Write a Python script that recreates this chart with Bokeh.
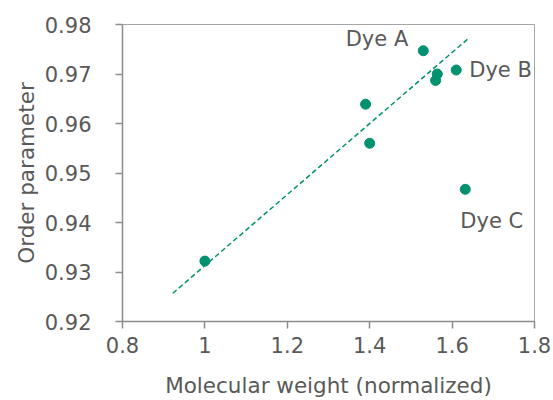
from bokeh.plotting import figure
from bokeh.models import Range1d, FixedTicker, Label
from bokeh.embed import file_html
from bokeh.resources import INLINE

# Data
mol_weight = [1.0, 1.39, 1.40, 1.53, 1.564, 1.56, 1.61, 1.632]
order_param = [0.9322, 0.9639, 0.9560, 0.9747, 0.9700, 0.9687, 0.9708, 0.9467]
trend_x = [0.922, 1.637]
trend_y = [0.9257, 0.9770]
dye_names = ["Dye A", "Dye B", "Dye C"]
dye_x = [1.53, 1.61, 1.632]
dye_y = [0.9747, 0.9708, 0.9467]
x_ticks = [0.8, 1.0, 1.2, 1.4, 1.6, 1.8]
x_tick_labels = ["0.8", "1", "1.2", "1.4", "1.6", "1.8"]
y_ticks = [0.92, 0.93, 0.94, 0.95, 0.96, 0.97, 0.98]
y_tick_labels = ["0.92", "0.93", "0.94", "0.95", "0.96", "0.97", "0.98"]

GREEN = "#00916E"
TEXT = "#595959"
AXIS = "#8c8c8c"
FONT = "DejaVu Sans"

p = figure(width=553, height=400, output_backend="svg", toolbar_location=None,
           x_range=Range1d(0.8, 1.8), y_range=Range1d(0.92, 0.98),
           min_border_left=122, min_border_right=19, min_border_top=24,
           min_border_bottom=79)
p.grid.visible = False
p.outline_line_color = "#a6a6a6"
p.outline_line_width = 1

p.line(trend_x, trend_y, line_color=GREEN, line_width=1.5, line_dash="5 3")
p.scatter(mol_weight, order_param, size=10, fill_color=GREEN, line_color=GREEN)

offsets = [(-15, 12, "right", "middle"), (13, 0, "left", "middle"), (-5, -32, "left", "middle")]
for name, x, y, (dx, dy, al, bl) in zip(dye_names, dye_x, dye_y, offsets):
    p.add_layout(Label(x=x, y=y, x_offset=dx, y_offset=dy, text=name,
                       text_align=al, text_baseline=bl, text_font=FONT,
                       text_font_size="21px", text_color=TEXT))

for ax in (p.xaxis[0], p.yaxis[0]):
    ax.axis_line_color = AXIS
    ax.axis_line_width = 1.5
    ax.major_tick_line_color = AXIS
    ax.major_tick_line_width = 1.5
    ax.major_tick_out = 7
    ax.major_tick_in = 0
    ax.minor_tick_line_color = None
    ax.major_label_text_font = FONT
    ax.major_label_text_font_size = "21px"
    ax.major_label_text_color = TEXT
    ax.axis_label_text_font = FONT
    ax.axis_label_text_font_size = "21.5px"
    ax.axis_label_text_color = TEXT
    ax.axis_label_text_font_style = "normal"

p.xaxis.ticker = FixedTicker(ticks=x_ticks)
p.yaxis.ticker = FixedTicker(ticks=y_ticks)
p.xaxis.major_label_overrides = dict(zip(x_ticks, x_tick_labels))
p.yaxis.major_label_overrides = dict(zip(y_ticks, y_tick_labels))
p.xaxis.axis_label = "Molecular weight (normalized)"
p.yaxis.axis_label = "Order parameter"
p.xaxis.major_label_standoff = 8
p.xaxis.axis_label_standoff = 17
p.yaxis.major_label_standoff = 24
p.yaxis.axis_label_standoff = 3

open("out.html", "w").write(file_html(p, INLINE))
